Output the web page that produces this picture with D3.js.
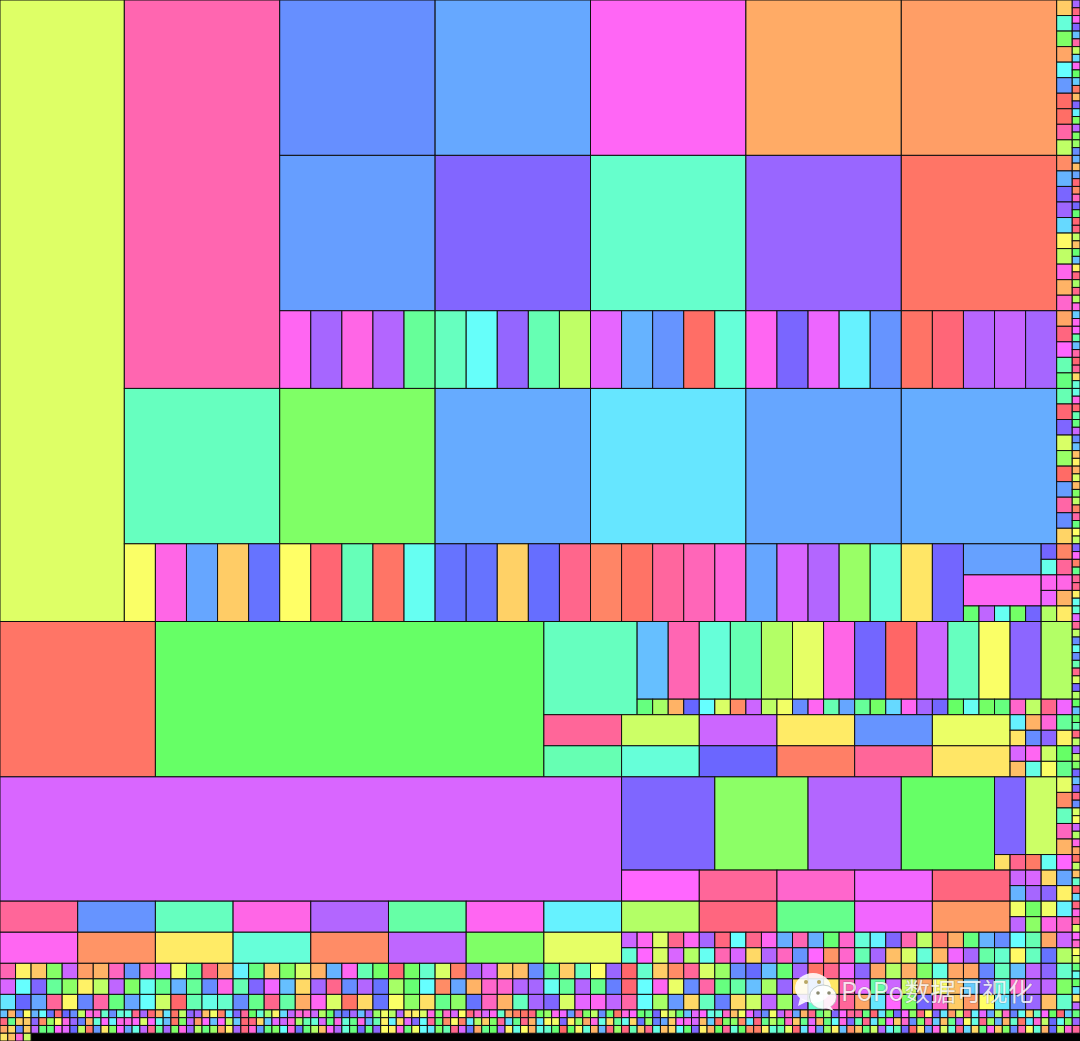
<!DOCTYPE html>
<html><head><meta charset="utf-8">
<script src="https://cdn.jsdelivr.net/npm/d3@7"></script>
<style>html,body{margin:0;padding:0;background:#000;overflow:hidden}svg{display:block}</style>
</head><body><svg id="c" width="1080" height="1041"></svg>
<script>
// Hue of every cell (colour = hsl(hue,100%,70%)), and cell values
const valueTall = 1280, valueFull = 1000, valueSquare = 400, valueMid = 144, valueBar = 40, valueSmall = 4, valueTiny = 1;
const hueTall = 73, huePink = 331, hueBottomPurple = 285, hueRed = 6, hueGreen = 120, hueMintMid = 155;
const topRow1 = [224,214,304,27,22];
const topRow2 = [218,251,160,260,6];
const topBars = [305,265,310,270,140,155,178,258,150,85,290,210,222,3,165,305,248,293,185,222,5,353,272,278,265];
const midSquares = [155,110,213,190,215,212];
const lowBars = [62,310,215,40,235,60,355,152,6,175,235,235,42,237,345,12,5,338,328,315,215,285,270,100,165,50,245];
const cornerWide = [217,305];
const cornerRow = [125,275,175,115,245];
const cornerCol = [245,172,305,295,90];
const strip2 = [40,165,110,25,180,220,2,3,335,85,15,210,248,262,195,58,85,308,30,320,25,350,300,150,130,150,355,250,75,100,2,218,335,225,43,12,340,310,30,52];
const strip1 = [265,350,305,250,205,335,85,195,305,120,200,8,35,250,185,110,275,110,100,225,210,35,215,355,15,325,245,125,355,350,85,35,125,205,55,350,95,345,90,310,
200,305,300,145,205,335,355,340,45,165,170,310,355,150,130,280,225,205,35,55,30,75,33,110,85,12,335,130,60,85,250,300,10,135,340,345,55,175,165,290,
340,85,225,175,225,150,345,75,245,90,120,205,125,150,350,85,265,85,110,245,205,250,350,225,75,62,280,90,310,25,5,85,35,160,355,195,350,310,340,75,
300,320,60,75,130,175,120,190,50,275];
const band1Bars = [205,330,165,150,90,70,310,245,0,280,155,62,255,90];
const band1Small = [130,95,30,240,180,75,15,280,85,65,225,305,150,215,140,115,195,305,265,245,120,175,115,130,320,85,345,295];
const band2Row1 = [340,80,280,52,222,68];
const band2Row2 = [150,165,242,10,340,50];
const band2Grid = [[185,30,315,140],[50,225,255,55],[285,305,80,120],[35,170,62,135]];
const squares12 = [250,105,270,120];
const pairTall = [250,80];
const pairRow = [48,345,8,175];
const pairCol = [70,15,155,325,30,300];
const wide5 = [300,340,320,295,350];
const wide5Grid = [[280,285,45,215],[210,265,255,55]];
const wide13 = [340,222,155,310,270,145,305,185,90,350,135,295,20];
const wide13Grid = [[65,115,65,185],[275,105,310,320]];
const wide8 = [305,18,52,165,15,275,110,70];
const left3Rows = [
[330,55,38,108,280,22,30,325,222,325,290,65,135,350,30,185,130,40,110,75,30,210,305,150,115,355,115,160,75,10,265,285,40,35,225,135,40,155,60,260],
[285,180,250,140,105,55,85,275,110,175,135,210,140,225,310,150,250,295,205,45,265,345,225,270,235,95,125,180,15,215,30,320,320,270,265,175,140,270,135,230],
[190,240,215,340,58,228,335,130,215,180,80,358,150,170,160,225,135,345,145,28,305,75,5,45,235,62,105,48,135,105,235,325,30,155,265,250,75,290,305,275]];
const right5Rows = [
[280,305,72,345,305,265,350,180,345,305,212,330,212,125,320,165,185,250,330,85,10,28,130,210,225,180,150,25,280],
[165,300,75,285,90,175,330,285,45,270,325,222,300,18,320,150,265,35,75,165,32,295,265,145,160,58,155,235,90],
[358,160,40,15,340,75,100,225,238,205,125,265,5,345,295,255,25,90,28,110,170,25,25,228,155,205,275,255,160],
[355,180,305,68,225,335,130,145,205,95,260,45,220,50,330,290,145,280,80,25,60,35,200,255,170,320,270,275,110],
[335,180,95,220,45,155,230,45,80,275,100,260,160,325,340,25,190,300,110,245,320,40,20,60,190,225,260,35,160]];
const tinyA = [205,30,225,60,210,180,235,355,240,225,85,310,315,160,225,165,170,345,265,355,30,190,5,85,255,265,35,65,10,185,
250,340,120,165,95,55,195,275,315,315,280,90,120,225,235,265,205,265,100,65,90,270,50,55,75,310,110,320,285,60,
350,320,285,305,160,25,10,5,350,115,100,305,295,220,340,110,85,225,125,5,310,300,125,135,245,65,85,125,205,290,
300,170,165,320,35,65,295,260,225,65,275,325,215,30,345,130,95,250,300,340,
340,130,355,190,120,245,300,105,350,60,250,190,20,80,345,185,290,215,90,320,230,175,40,160,300,120,355,200,130];
const tinyB = [350,135,40,40,255,15,100,60,310,260,230,30,165,300,185,310,310,300,75,300,175,205,5,110,275,20,300,205,300,85,
200,355,350,45,200,290,280,315,95,150,165,285,130,310,165,135,310,210,150,55,185,45,290,250,180,340,125,15,60,10,
190,90,40,110,340,195,135,345,30,190,60,65,250,55,100,25,310,170,45,140,175,45,235,100,230,215,40,300,305,285,
35,200,5,110,105,15,190,350,135,90,115,320,40,135,290,30,130,180,310,250,
150,345,190,115,300,40,320,225,110,330,200,35,135,270,60,170,345,100,210,30,160,5,190,315,85,240,175,110,260];
const tinyC = [25,45,225,40,275,130,130,300,290,240,85,5,220,50,110,300,215,170,275,345,140,265,110,310,260,90,130,100,20,55,
265,350,315,220,130,110,180,315,235,130,90,35,300,270,165,130,245,130,255,60,55,310,130,65,180,190,110,150,345,285,
235,25,135,120,270,55,170,60,30,170,160,125,0,120,55,165,30,210,350,100,350,150,35,345,170,35,45,180,125,250,
55,30,120,340,165,120,15,10,55,165,150,70,355,190,305,220,100,55,205,15,
35,130,80,270,185,150,245,0,50,220,310,75,165,350,195,45,130,305,40,110,225,330,60,165,30,240,90,315,340];
const tinyLast = [50,35,315,80];
const emptyRemainder = 135;
const watermark = "PoPo数据可视化";

// Tree builders: 'h' = children side by side, 'v' = children stacked
const leaf = (hue, value) => ({hue, value});
const h = (...children) => ({dir:'h', children});
const v = (...children) => ({dir:'v', children});
const hRow = (hues, value) => ({dir:'h', children: hues.map(c => leaf(c, value))});
const vCol = (hues, value) => ({dir:'v', children: hues.map(c => leaf(c, value))});
const grid = (rows, value) => ({dir:'v', children: rows.map(r => hRow(r, value))});

const tree = v(
  h(
    v(
      h(
        h(
          leaf(hueTall, valueTall),
          v(
            h(leaf(huePink, valueFull),
              v(hRow(topRow1, valueSquare), hRow(topRow2, valueSquare), hRow(topBars, valueBar))),
            hRow(midSquares, valueSquare),
            h(hRow(lowBars, valueBar),
              v(vCol(cornerWide, valueBar), hRow(cornerRow, valueSmall)),
              vCol(cornerCol, valueSmall))
          )
        ),
        vCol(strip2, valueSmall)
      ),
      v(
        h(leaf(hueRed, valueSquare), leaf(hueGreen, valueFull),
          v(
            h(leaf(hueMintMid, valueMid),
              v(hRow(band1Bars, valueBar), hRow(band1Small, valueSmall))),
            h(v(hRow(band2Row1, valueBar), hRow(band2Row2, valueBar)),
              grid(band2Grid, valueSmall))
          )),
        h(leaf(hueBottomPurple, valueTall),
          v(
            h(hRow(squares12, valueMid),
              v(hRow(pairTall, valueBar), hRow(pairRow, valueSmall)),
              vCol(pairCol, valueSmall)),
            h(hRow(wide5, valueBar), grid(wide5Grid, valueSmall))
          )),
        h(hRow(wide13, valueBar), grid(wide13Grid, valueSmall)),
        h(v(hRow(wide8, valueBar), grid(left3Rows, valueSmall)),
          grid(right5Rows, valueSmall))
      )
    ),
    vCol(strip1, valueTiny)
  ),
  hRow(tinyA, valueTiny),
  hRow(tinyB, valueTiny),
  hRow(tinyC, valueTiny),
  h(hRow(tinyLast, valueTiny), {value: emptyRemainder})
);

const W = 1080, H = 1041;
const root = d3.hierarchy(tree).sum(d => d.children ? 0 : d.value);
d3.treemap()
  .size([W, H])
  .paddingInner(0)
  .tile((node, x0, y0, x1, y1) =>
    (node.data.dir === 'h' ? d3.treemapDice : d3.treemapSlice)(node, x0, y0, x1, y1))(root);

const svg = d3.select('#c');
svg.append('rect').attr('width', W).attr('height', H).attr('fill', '#000');
svg.append('g').selectAll('rect')
  .data(root.leaves().filter(d => d.data.hue !== undefined))
  .join('rect')
  .attr('x', d => d.x0).attr('y', d => d.y0)
  .attr('width', d => d.x1 - d.x0).attr('height', d => d.y1 - d.y0)
  .attr('fill', d => d3.hsl(d.data.hue, 1, 0.7).formatHex())
  .attr('stroke', '#111').attr('stroke-width', 1);

// Watermark
const wm = svg.append('g');
const icon = wm.append('g');
icon.append('ellipse').attr('cx', 813).attr('cy', 988).attr('rx', 18).attr('ry', 15).attr('fill', '#fff').attr('fill-opacity', .88);
icon.append('path').attr('d', 'M800 998 L798 1006 L808 1001 Z').attr('fill', '#fff').attr('fill-opacity', .88);
icon.selectAll('.e1').data([[806,982],[819,982]]).join('circle').attr('cx', d => d[0]).attr('cy', d => d[1]).attr('r', 2).attr('fill', '#b9a765');
icon.append('ellipse').attr('cx', 823).attr('cy', 997).attr('rx', 13.5).attr('ry', 12).attr('fill', '#fff').attr('fill-opacity', .9).attr('stroke', '#9aa').attr('stroke-width', .6);
icon.append('path').attr('d', 'M830 1006 L834 1011 L826 1008 Z').attr('fill', '#fff').attr('fill-opacity', .9);
icon.selectAll('.e2').data([[818,993],[829,993]]).join('circle').attr('cx', d => d[0]).attr('cy', d => d[1]).attr('r', 1.8).attr('fill', '#8a8a70');
wm.append('text').attr('x', 841).attr('y', 1001).text(watermark)
  .attr('font-family', '"Noto Sans CJK SC","Noto Sans",sans-serif').attr('font-size', 25.5)
  .attr('letter-spacing', .4)
  .attr('fill', '#fff').attr('fill-opacity', .82)
  .style('paint-order', 'stroke').attr('stroke', '#555').attr('stroke-opacity', .35).attr('stroke-width', 1.2);
</script></body></html>
